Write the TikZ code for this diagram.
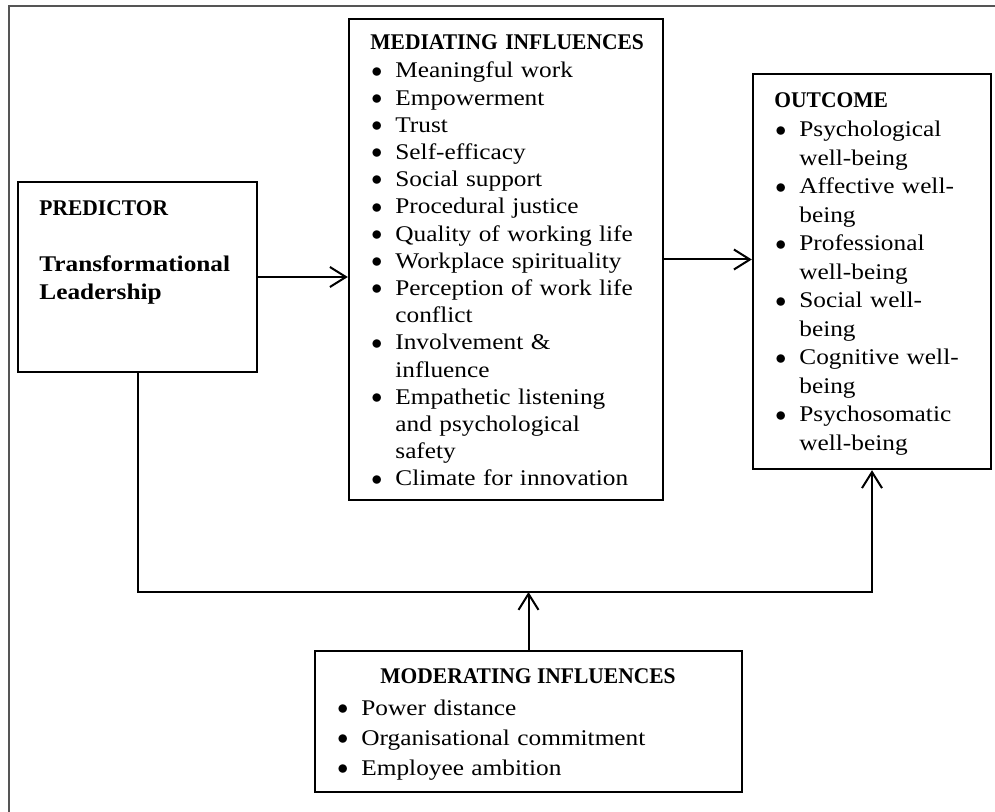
\documentclass[tikz,border=0pt]{standalone}
\usepackage{fontspec}
\setmainfont{Liberation Serif}[FakeStretch=1.13]
\newfontfamily\capsfont{Liberation Serif}[FakeStretch=0.96]
\usetikzlibrary{arrows.meta}
\definecolor{framegray}{RGB}{85, 85, 85}
\newcommand{\bitem}{\makebox[12.5pt][l]{\hspace{0.5pt}\raisebox{0.4pt}{$\bullet$}}}
\newcommand{\bcont}{\hspace*{12.5pt}}

\begin{document}
\begin{tikzpicture}[x=0.5pt, y=-0.5pt,
    box/.style={draw, line width=1.2pt, inner sep=0pt},
    txt/.style={anchor=base west, inner sep=0pt, text width=170pt,
                align=left, font=\fontsize{11.2}{13.6}\selectfont},
    arr/.style={-{Straight Barb[length=8pt,width=10pt]}, line width=1pt}]
  \clip (0,0) rectangle (995,812);
  % Frame
  \draw[framegray, line width=0.9pt] (9,830) -- (9,6) -- (1010,6);

  % Boxes
  \node[box, minimum width=119.5pt, minimum height=95pt]    (pred) at (137.5,277)  {};
  \node[box, minimum width=157pt,   minimum height=240.5pt] (med)  at (506,259.5)  {};
  \node[box, minimum width=119pt,   minimum height=197.5pt] (out)  at (872,271.5)  {};
  \node[box, minimum width=213.5pt, minimum height=70.5pt]  (mod)  at (528.5,721.5) {};

  % Texts
  \node[txt, font=\fontsize{11.2}{14}\selectfont] (predtxt) at (39,216)
    {{\capsfont\bfseries PREDICTOR}\\[14pt]
     \bfseries Transformational\\ Leadership};
  \node[txt] (medtxt) at (370,50)
    {{\capsfont\bfseries MEDIATING INFLUENCES}\\[0.4pt]
     \bitem Meaningful work\\
     \bitem Empowerment\\
     \bitem Trust\\
     \bitem Self-efficacy\\
     \bitem Social support\\
     \bitem Procedural justice\\
     \bitem Quality of working life\\
     \bitem Workplace spirituality\\
     \bitem Perception of work life\\
     \bcont conflict\\
     \bitem Involvement \&\\
     \bcont influence\\
     \bitem Empathetic listening\\
     \bcont and psychological\\
     \bcont safety\\
     \bitem Climate for innovation};
  \node[txt, font=\fontsize{11.2}{14.25}\selectfont] (outtxt) at (774,108)
    {{\capsfont\bfseries OUTCOME}\\[0.25pt]
     \bitem Psychological\\
     \bcont well-being\\
     \bitem Affective well-\\
     \bcont being\\
     \bitem Professional\\
     \bcont well-being\\
     \bitem Social well-\\
     \bcont being\\
     \bitem Cognitive well-\\
     \bcont being\\
     \bitem Psychosomatic\\
     \bcont well-being};
  \node[anchor=base, inner sep=0pt, font=\fontsize{11.2}{13.6}\selectfont]
    (modhead) at (528,683) {\capsfont\bfseries MODERATING INFLUENCES};
  \node[txt, font=\fontsize{11.2}{15}\selectfont] (modtxt) at (336,715)
    {\bitem Power distance\\
     \bitem Organisational commitment\\
     \bitem Employee ambition};

  % Connectors
  \coordinate (busy) at (0,592);
  \draw[arr] (pred.east) -- (pred.east -| med.west);
  \draw[arr] (med.east) -- (med.east -| out.west);
  \draw[arr] (pred.south) |- (out.south |- busy) -- (out.south);
  \draw[arr] (mod.north) -- (mod.north |- busy);
\end{tikzpicture}
\end{document}
